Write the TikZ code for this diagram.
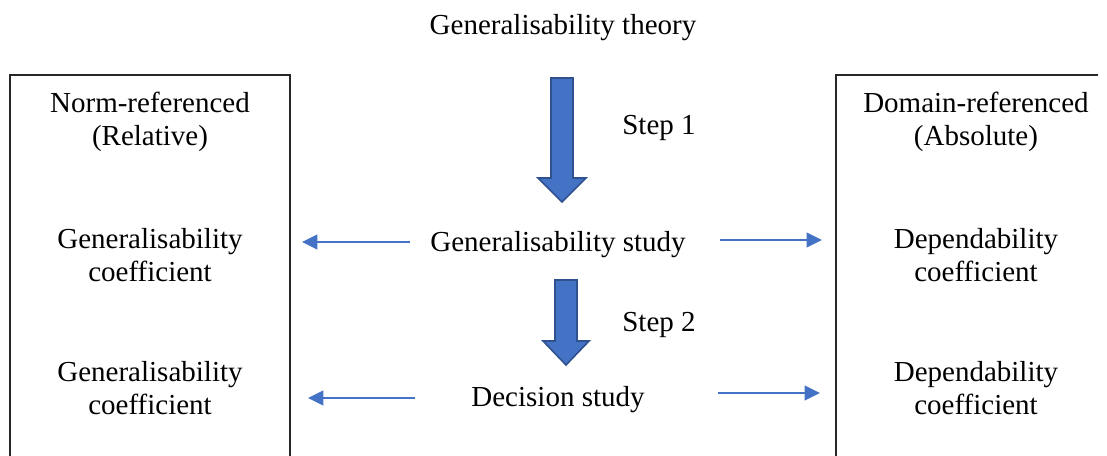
\documentclass[tikz,border=0pt]{standalone}
\usepackage{fontspec}
\setmainfont{Liberation Serif}
\usetikzlibrary{arrows.meta}
\definecolor{blockfill}{HTML}{4472C4}
\definecolor{blockedge}{HTML}{2F528F}
\definecolor{boxedge}{HTML}{262626}
\begin{document}
\begin{tikzpicture}[x=0.75pt,y=-0.75pt,
  txt/.style={inner sep=0pt,align=center,font=\fontsize{21.75pt}{24.8pt}\selectfont},
  boxline/.style={draw=boxedge,line width=0.9pt},
  blockarrow/.style={fill=blockfill,draw=blockedge,line width=1.2pt,line join=miter},
  thinarrow/.style={draw=blockfill,line width=1.5pt,-{Triangle[length=11.5pt,width=11pt]}}]
\useasboundingbox (0,0) rectangle (1107,456);
\clip (0,0) rectangle (1107,456);
% boxes
\draw[boxline] (10,460) -- (10,75) -- (290,75) -- (290,460);
\draw[boxline] (836,460) -- (836,75) -- (1098,75);
% title
\node[txt] (theory) at (563,28) {Generalisability theory};
% left column
\node[txt] (norm) at (150,122) {Norm-referenced\\(Relative)};
\node[txt] (gc1) at (150,255) {Generalisability\\coefficient};
\node[txt] (gc2) at (150,388) {Generalisability\\coefficient};
% right column
\node[txt] (domain) at (976,122) {Domain-referenced\\(Absolute)};
\node[txt] (dc1) at (976,255) {Dependability\\coefficient};
\node[txt] (dc2) at (976,388) {Dependability\\coefficient};
% centre
\node[txt] (step1) at (659,128) {Step 1};
\node[txt] (gstudy) at (558,245) {Generalisability study};
\node[txt] (step2) at (659,325) {Step 2};
\node[txt] (dstudy) at (558,400) {Decision study};
% block arrows
\draw[blockarrow] (551,78) -- (573,78) -- (573,178) -- (586,178) -- (562,202) -- (538,178) -- (551,178) -- cycle;
\draw[blockarrow] (555,280) -- (577,280) -- (577,341) -- (589,341) -- (566,365) -- (543,341) -- (555,341) -- cycle;
% thin arrows
\coordinate (a1s) at (410,242); \coordinate (a1e) at (302,242);
\coordinate (a2s) at (720,240); \coordinate (a2e) at (822,240);
\coordinate (a3s) at (415,398); \coordinate (a3e) at (308,398);
\coordinate (a4s) at (718,393); \coordinate (a4e) at (820,393);
\draw[thinarrow] (a1s) -- (a1e);
\draw[thinarrow] (a2s) -- (a2e);
\draw[thinarrow] (a3s) -- (a3e);
\draw[thinarrow] (a4s) -- (a4e);
\end{tikzpicture}
\end{document}
